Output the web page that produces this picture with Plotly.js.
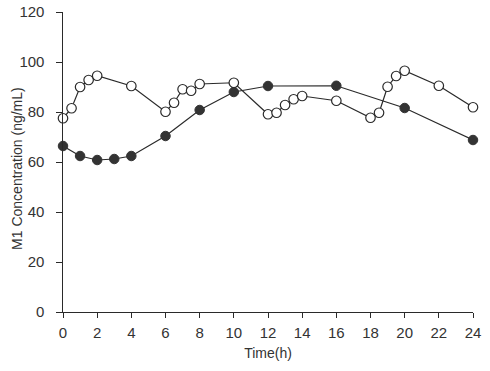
<!DOCTYPE html>
<html>
<head>
<meta charset="utf-8">
<script src="https://cdn.plot.ly/plotly-3.0.1.min.js"></script>
<style>html,body{margin:0;padding:0;background:#fff;}#chart{width:490px;height:371px;}</style>
</head>
<body>
<div id="chart"></div>
<script>
const openTime = [0, 0.5, 1, 1.5, 2, 4, 6, 6.5, 7, 7.5, 8, 10, 12, 12.5, 13, 13.5, 14, 16, 18, 18.5, 19, 19.5, 20, 22, 24];
const openConc = [77.5, 81.5, 90, 92.8, 94.5, 90.4, 80.1, 83.7, 89.1, 88.5, 91.2, 91.7, 79.1, 79.7, 82.8, 85.1, 86.4, 84.5, 77.7, 79.7, 90.1, 94.4, 96.5, 90.5, 81.9];
const filledTime = [0, 1, 2, 3, 4, 6, 8, 10, 12, 16, 20, 24];
const filledConc = [66.4, 62.4, 60.8, 61.2, 62.4, 70.4, 80.8, 88, 90.4, 90.5, 81.6, 68.8];
const xTicks = [0, 2, 4, 6, 8, 10, 12, 14, 16, 18, 20, 22, 24];
const yTicks = [0, 20, 40, 60, 80, 100, 120];
const xTitle = 'Time(h)';
const yTitle = 'M1 Concentration (ng/mL)';

const fontFam = '"Liberation Sans Narrow", "Arial Narrow", "Liberation Sans", Arial, sans-serif';
const ink = '#2a2a2a';

const traces = [
  {x: filledTime, y: filledConc, mode: 'lines+markers', type: 'scatter', cliponaxis: false,
   line: {color: ink, width: 1.2},
   marker: {symbol: 'circle', size: 9.5, color: '#333', line: {color: '#333', width: 1}}},
  {x: openTime, y: openConc, mode: 'lines+markers', type: 'scatter', cliponaxis: false,
   line: {color: ink, width: 1.2},
   marker: {symbol: 'circle', size: 9.5, color: '#fff', line: {color: ink, width: 1.2}}}
];

const layout = {
  width: 490, height: 371,
  margin: {l: 63, r: 17, t: 12, b: 59},
  paper_bgcolor: '#fff', plot_bgcolor: '#fff',
  showlegend: false,
  font: {family: fontFam, size: 15, color: '#333'},
  xaxis: {
    range: [0, 24], tickvals: xTicks, ticktext: xTicks.map(String),
    showgrid: false, zeroline: false, showline: true, linecolor: ink, linewidth: 1.2,
    ticks: 'outside', ticklen: 5, tickcolor: ink, tickwidth: 1, ticklabelstandoff: 2,
    tickfont: {family: fontFam, size: 15, color: '#333'},
    title: {text: xTitle, font: {family: fontFam, size: 14, color: '#333'}, standoff: 8}
  },
  yaxis: {
    range: [0, 120], tickvals: yTicks, ticktext: yTicks.map(v => v + '\u00a0\u00a0'),
    showgrid: false, zeroline: false, showline: true, linecolor: ink, linewidth: 1.2,
    ticks: 'outside', ticklen: 6, tickcolor: ink, tickwidth: 1,
    tickfont: {family: fontFam, size: 15, color: '#333'},
    title: {text: ''}
  },
  annotations: [{
    text: yTitle, textangle: -90, showarrow: false,
    xref: 'paper', yref: 'paper', x: 0, y: 0.477, xanchor: 'center', yanchor: 'middle', xshift: -46,
    font: {family: fontFam, size: 14, color: '#333'}
  }]
};

Plotly.newPlot('chart', traces, layout, {staticPlot: true, displayModeBar: false});
</script>
</body>
</html>
